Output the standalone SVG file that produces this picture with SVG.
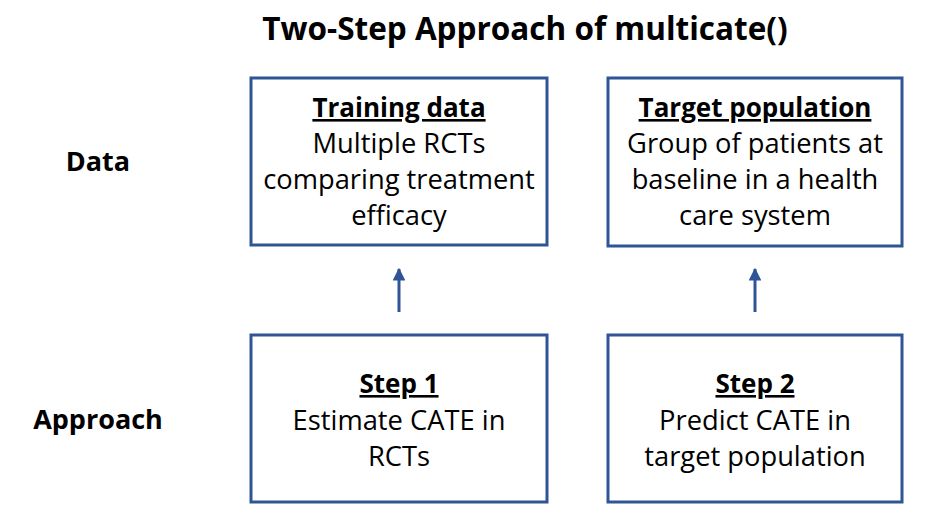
<svg xmlns="http://www.w3.org/2000/svg" width="933" height="532" viewBox="0 0 933 532">
<style>
.box{fill:#fff;stroke:#2F5597;stroke-width:3}
.t{font-family:"Open Sans","Liberation Sans",sans-serif;font-size:27.3px;fill:#000;text-anchor:middle}
.h{font-family:"Open Sans","Liberation Sans",sans-serif;font-size:26px;font-weight:bold;fill:#000;text-anchor:middle;text-decoration:underline}
.lab{font-family:"Open Sans","Liberation Sans",sans-serif;font-size:27px;font-weight:bold;fill:#000;text-anchor:middle}
.title{font-family:"Open Sans","Liberation Sans",sans-serif;font-size:31.5px;font-weight:bold;fill:#000;text-anchor:middle}
.conn{stroke:#2F5597;stroke-width:3;fill:none}
</style>
<defs>
<marker id="ah" viewBox="0 0 10 10" refX="9" refY="5" markerWidth="4.3" markerHeight="4.3" markerUnits="strokeWidth" orient="auto">
<path d="M0,0 L10,5 L0,10 z" fill="#2F5597"/>
</marker>
</defs>
<rect width="933" height="532" fill="#fff"/>
<text class="title" x="525" y="40">Two-Step Approach of multicate()</text>
<g id="label-data"><text class="lab" x="98" y="171">Data</text></g>
<g id="label-approach"><text class="lab" x="98" y="429">Approach</text></g>
<g id="training">
<rect class="box" x="251" y="78" width="296" height="167"/>
<text class="h" x="399" y="117">Training data</text>
<text class="t" x="399" y="153">Multiple RCTs</text>
<text class="t" x="399" y="189">comparing treatment</text>
<text class="t" x="399" y="225">efficacy</text>
</g>
<g id="target">
<rect class="box" x="608" y="78" width="294" height="168"/>
<text class="h" x="755" y="117">Target population</text>
<text class="t" x="755" y="153">Group of patients at</text>
<text class="t" x="755" y="189">baseline in a health</text>
<text class="t" x="755" y="225">care system</text>
</g>
<g id="step1">
<rect class="box" x="251" y="335" width="296" height="167"/>
<text class="h" x="399" y="393">Step 1</text>
<text class="t" x="399" y="430">Estimate CATE in</text>
<text class="t" x="399" y="466">RCTs</text>
</g>
<g id="step2">
<rect class="box" x="608" y="335" width="294" height="167"/>
<text class="h" x="755" y="393">Step 2</text>
<text class="t" x="755" y="430">Predict CATE in</text>
<text class="t" x="755" y="466">target population</text>
</g>
<g id="connectors">
<line class="conn" x1="399" y1="312" x2="399" y2="269" marker-end="url(#ah)"/>
<line class="conn" x1="755" y1="312" x2="755" y2="269" marker-end="url(#ah)"/>
</g>
</svg>
